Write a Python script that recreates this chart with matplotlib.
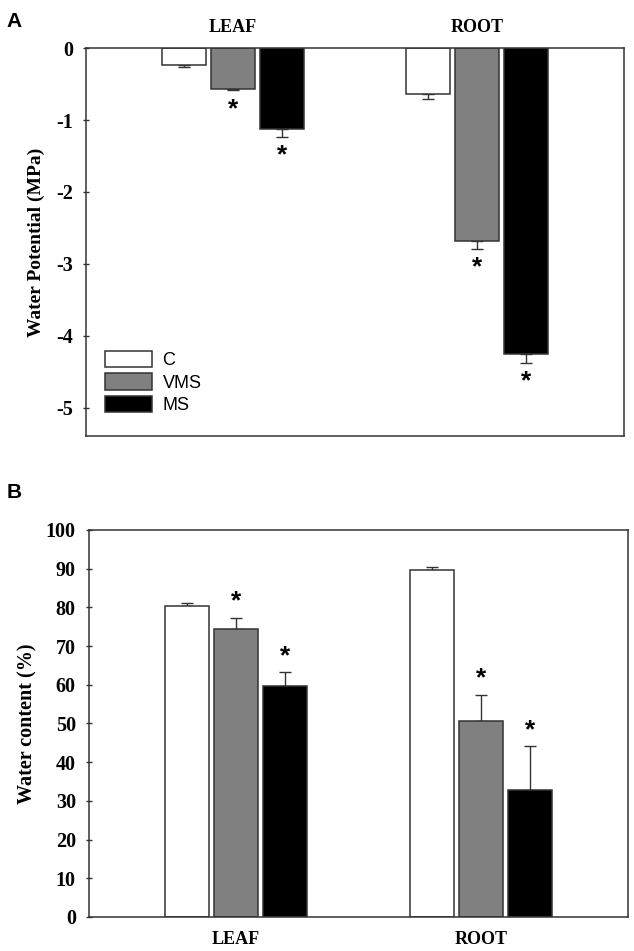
import numpy as np
import matplotlib
matplotlib.use("Agg")
import matplotlib.pyplot as plt

# data
categories = ["LEAF", "ROOT"]
treatments = ["C", "VMS", "MS"]
bar_colors = ["white", "#808080", "black"]

# water potential (MPa)
wp_C = [-0.23, -0.64]
wp_VMS = [-0.565, -2.68]
wp_MS = [-1.13, -4.25]
wp_err_C = [0.04, 0.07]
wp_err_VMS = [0.02, 0.11]
wp_err_MS = [0.10, 0.12]

# water content (%)
wc_C = [80.4, 89.7]
wc_VMS = [74.3, 50.7]
wc_MS = [59.7, 32.8]
wc_err_C = [0.6, 0.6]
wc_err_VMS = [3.0, 6.7]
wc_err_MS = [3.6, 11.4]

# significant difference vs control (asterisk)
sig_C = [False, False]
sig_VMS = [True, True]
sig_MS = [True, True]

wp_ticks = [0, -1, -2, -3, -4, -5]
wc_ticks = [0, 10, 20, 30, 40, 50, 60, 70, 80, 90, 100]

plt.rcParams['font.family'] = 'Liberation Serif'
plt.rcParams['font.weight'] = 'bold'
plt.rcParams['axes.unicode_minus'] = False

LINE = "#333333"


def draw_bars(ax, values, errors, sigs, star_off):
    x = np.arange(1, len(categories) + 1)
    offsets = [-0.2, 0.0, 0.2]
    handles = []
    for vals, errs, sig, off, col, name in zip(values, errors, sigs, offsets, bar_colors, treatments):
        vals = np.array(vals)
        errs = np.array(errs)
        b = ax.bar(x + off, vals, width=0.18, color=col, edgecolor=LINE,
                   linewidth=1.1, label=name, zorder=2)
        handles.append(b)
        # one sided error bars, pointing away from zero
        down = vals < 0
        lower = np.where(down, errs, 0)
        upper = np.where(down, 0, errs)
        ax.errorbar(x + off, vals, yerr=[lower, upper], fmt='none', ecolor=LINE,
                    elinewidth=1.0, capsize=4.5, capthick=1.0, zorder=1)
        for xi, v, e, s, d in zip(x + off, vals, errs, sig, down):
            if not s:
                continue
            tip = v - e if d else v + e
            dy = -star_off if d else star_off
            ax.annotate("*", (xi, tip), xytext=(0, dy), textcoords='offset points',
                        ha='center', va='center', fontsize=19, fontweight='bold',
                        family='Liberation Sans')
    return handles


def style_axes(ax):
    for sp in ax.spines.values():
        sp.set_color(LINE)
        sp.set_linewidth(1.1)
    ax.tick_params(axis='y', direction='inout', length=5, width=1, color=LINE,
                   labelsize=14.5, pad=7)
    ax.set_xlim(0.4, 2.6)


def main():
    fig = plt.figure(figsize=(6.34, 9.51), dpi=100)

    # panel A
    ax1 = fig.add_axes([0.1356, 0.5415, 0.8486, 0.408])
    handles = draw_bars(ax1, [wp_C, wp_VMS, wp_MS], [wp_err_C, wp_err_VMS, wp_err_MS],
                        [sig_C, sig_VMS, sig_MS], star_off=13.5)
    style_axes(ax1)
    ax1.set_ylim(-5.39, 0)
    ax1.set_yticks(wp_ticks)
    ax1.set_xticks(np.arange(1, len(categories) + 1))
    ax1.set_xticklabels(categories)
    ax1.tick_params(axis='x', bottom=False, top=False, labelbottom=False, labeltop=True,
                    length=0, pad=9, labelsize=13)
    ax1.set_ylabel("Water Potential (MPa)", fontsize=14, fontweight='bold', labelpad=8)
    ax1.legend(handles=handles, loc='upper left', bbox_to_anchor=(0.035, 0.22),
               frameon=False, prop={'family': 'Liberation Sans', 'weight': 'normal', 'size': 13},
               handlelength=2.6, handleheight=1.05, labelspacing=0.22, handletextpad=0.6,
               borderpad=0, borderaxespad=0)

    # panel B
    ax2 = fig.add_axes([0.1404, 0.0358, 0.850, 0.407])
    draw_bars(ax2, [wc_C, wc_VMS, wc_MS], [wc_err_C, wc_err_VMS, wc_err_MS],
              [sig_C, sig_VMS, sig_MS], star_off=11.5)
    style_axes(ax2)
    ax2.set_ylim(0, 100)
    ax2.set_yticks(wc_ticks)
    ax2.set_xticks(np.arange(1, len(categories) + 1))
    ax2.set_xticklabels(categories)
    ax2.tick_params(axis='x', bottom=False, length=0, pad=10, labelsize=13)
    ax2.set_ylabel("Water content (%)", fontsize=14.5, fontweight='bold', labelpad=6)

    # panel letters
    fig.text(0.011, 0.972, "A", family='Liberation Sans', fontweight='bold', fontsize=15)
    fig.text(0.011, 0.476, "B", family='Liberation Sans', fontweight='bold', fontsize=15)

    fig.savefig("out.png", dpi=100)


if __name__ == "__main__":
    main()
